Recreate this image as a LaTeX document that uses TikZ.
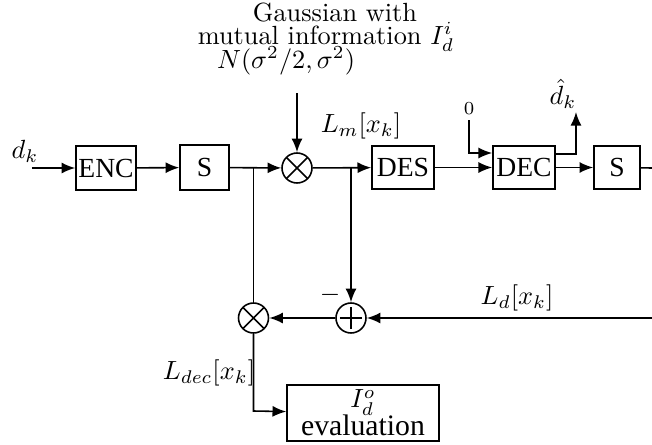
\documentclass[tikz,border=0pt]{standalone}
\usepackage{fontspec}
\newfontfamily\tm{Liberation Serif}
\usetikzlibrary{arrows.meta}
\begin{document}
\begin{tikzpicture}[x=0.3802pt,y=-0.3802pt,line width=0.6pt,
  arr/.style={-{Latex[length=5.2pt,width=4.2pt]}},
  blk/.style={draw,inner sep=0pt,font=\tm\fontsize{10.5}{11}\selectfont},
  lbl/.style={inner sep=0pt,font=\fontsize{10}{10}\selectfont},
  mult/.style={circle,draw,minimum size=11.4pt,inner sep=0pt,
    path picture={\draw (path picture bounding box.center) +(-3.9pt,-3.9pt) -- +(3.9pt,3.9pt) +(-3.9pt,3.9pt) -- +(3.9pt,-3.9pt);}},
  add/.style={circle,draw,minimum size=11.4pt,inner sep=0pt,
    path picture={\draw (path picture bounding box.center) +(-4.2pt,0) -- +(4.2pt,0) +(0,-4.2pt) -- +(0,4.2pt);}}]
\useasboundingbox (0,0) rectangle (652,445);

% top text
\node[lbl] (g1) at (335,13) {Gaussian with};
\node[lbl] (g2) at (326,37) {mutual information $I_d^i$};
\node[lbl] (g3) at (286,61) {$N(\sigma^2/2,\sigma^2)$};
\coordinate (gin) at (297,93);

% main chain
\coordinate (din) at (32,168);
\node[lbl] (dk) at (25,151) {$d_k$};
\node[blk,minimum width=22.8pt,minimum height=16.7pt] (enc) at (106,168) {ENC};
\node[blk,minimum width=18.6pt,minimum height=17.1pt] (s1) at (204.5,167.5) {S};
\coordinate (j1) at (253.5,168);
\node[mult] (m1) at (297,168) {};
\node[lbl] (lm) at (361,126) {$L_m[x_k]$};
\coordinate (j2) at (351,168);
\node[blk,minimum width=23.6pt,minimum height=16.3pt] (des) at (403,167.5) {DES};
\node[blk,minimum width=23.6pt,minimum height=16.3pt] (dec) at (524,167.5) {DEC};
\node[lbl] (zero) at (469,109) {\fontsize{7}{7}\selectfont 0};
\coordinate (z1) at (469,120);
\coordinate (z2) at (469,153);
\coordinate (dh1) at (576,154);
\coordinate (dh2) at (576,112);
\node[lbl] (dhat) at (563,94) {$\hat{d}_k$};
\node[blk,minimum width=17.5pt,minimum height=16.3pt] (s2) at (617,167.5) {S};
\coordinate (out) at (652,168);

% feedback
\node[mult] (m2) at (253.5,318) {};
\node[add] (ad) at (351,318) {};
\coordinate (ldin) at (652,318);
\node[lbl] (ld) at (517,298) {$L_d[x_k]$};
\node[lbl] (minus) at (330,295) {$-$};
\coordinate (bl) at (253.5,411);
\node[lbl] (ldec) at (209,373) {$L_{dec}[x_k]$};
\node[draw,inner sep=0pt,minimum width=57.8pt,minimum height=21.3pt,align=center,
  font=\fontsize{10}{9}\selectfont] (ev) at (363,413)
  {$I_d^o$\\[-1pt]{\tm\fontsize{11.3}{11}\selectfont evaluation}};

% connectors
\draw[arr] (din) -- (enc);
\draw[arr] (enc) -- (s1);
\draw[arr] (s1) -- (m1);
\draw[arr] (gin) -- (m1);
\draw[arr] (m1) -- (des);
\draw[arr] (des) -- (dec);
\draw[arr] (z1) -- (z2) -- (z2 -| dec.west);
\draw[arr] (dh1 -| dec.east) -- (dh1) -- (dh2);
\draw[arr] (dec) -- (s2);
\draw (s2) -- (out);
\draw (j1) -- (m2);
\draw[arr] (j2) -- (ad);
\draw[arr] (ldin) -- (ad);
\draw[arr] (ad) -- (m2);
\draw[arr] (m2) -- (bl) -- (ev);
\end{tikzpicture}
\end{document}
